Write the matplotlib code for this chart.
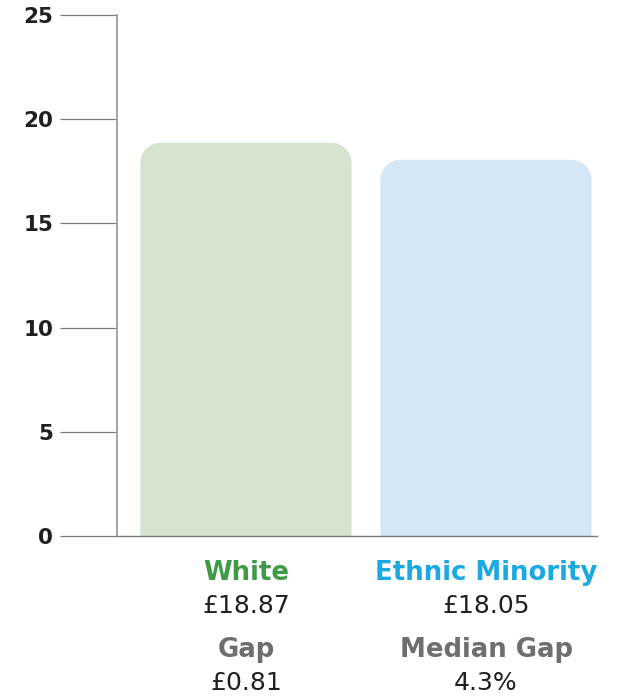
import numpy as np
import matplotlib.pyplot as plt
from matplotlib.patches import PathPatch
from matplotlib.path import Path
import matplotlib.transforms as mtransforms

# Data
groups = ["White", "Ethnic Minority"]
pay = [18.87, 18.05]
pay_labels = ["£18.87", "£18.05"]
gap_titles = ["Gap", "Median Gap"]
gap_values = ["£0.81", "4.3%"]
yticks = [0, 5, 10, 15, 20, 25]

bar_colors = ["#d6e3cf", "#d5e6f5"]
name_colors = ["#3f9b45", "#1ca8e0"]
dark = "#231f20"
grey = "#6d6e71"

plt.rcParams["font.family"] = ["DejaVu Sans"]


def rounded_top_bar(x0, w, h, rx, ry):
    # outline of a bar with rounded top corners, in data units
    t = np.linspace(0, np.pi / 2, 20)
    right = np.column_stack([x0 + w - rx + rx * np.cos(t), h - ry + ry * np.sin(t)])
    left = np.column_stack([x0 + rx - rx * np.sin(t), h - ry + ry * np.cos(t)])
    pts = np.vstack([[x0, 0], [x0 + w, 0], right, left, [x0, 0]])
    return Path(pts, closed=True)


fig = plt.figure(figsize=(6.19, 6.96), dpi=100)
ax = fig.add_axes([117 / 619, 1 - 536 / 696, 480 / 619, 521 / 696])
ax.set_xlim(-0.5375, 1.4625)
ax.set_ylim(0, 25)

bar_w = 0.88
rx = 0.085
ry = 20 / 20.84
for i, (v, c) in enumerate(zip(pay, bar_colors)):
    ax.add_patch(PathPatch(rounded_top_bar(i - bar_w / 2, bar_w, v, rx, ry),
                           fc=c, ec="none", zorder=1))

# axes styling
for s in ["top", "right"]:
    ax.spines[s].set_visible(False)
ax.spines["left"].set_color("#9d9d9d")
ax.spines["left"].set_linewidth(1.3)
ax.spines["bottom"].set_color("#7a7a7a")
ax.spines["bottom"].set_linewidth(1.0)
ax.set_xticks([])
ax.set_yticks(yticks)
ax.tick_params(axis="y", length=41, width=0.9, color="#7a7a7a", pad=5,
               labelsize=15.5, labelcolor=dark)
for lbl in ax.get_yticklabels():
    lbl.set_fontweight("bold")

# labels under the bars
trans = mtransforms.blended_transform_factory(ax.transData, fig.transFigure)
for i in range(len(groups)):
    ax.text(i, 1 - 573 / 696, groups[i], transform=trans, ha="center", va="center",
            fontsize=18.7, fontweight="bold", color=name_colors[i])
    ax.text(i, 1 - 606 / 696, pay_labels[i], transform=trans, ha="center", va="center",
            fontsize=18, color=dark)
    ax.text(i, 1 - 650 / 696, gap_titles[i], transform=trans, ha="center", va="center",
            fontsize=18.7, fontweight="bold", color=grey)
    ax.text(i, 1 - 683 / 696, gap_values[i], transform=trans, ha="center", va="center",
            fontsize=18, color=dark)

fig.savefig("out.png", dpi=100)
